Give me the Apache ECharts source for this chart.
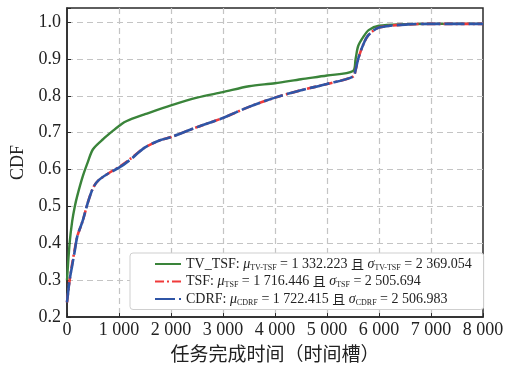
<!DOCTYPE html>
<html>
<head>
<meta charset="utf-8">
<script src="https://cdn.jsdelivr.net/npm/echarts@6/dist/echarts.min.js"></script>
<style>
    html, body { margin: 0; padding: 0; background: #fff; }
    #charts { width: 511px; height: 368px; }
</style>
</head>
<body>
<div id="charts"></div>
<script>
    // 任务完成时间 (x) 与 CDF (y)
    var tvX   = [0, 50, 100, 150, 200, 300, 400, 500, 700, 900, 1000, 1100, 1200, 1500, 2000, 2500, 3000, 3500, 4000, 4500, 5000, 5500, 5550, 5600, 5700, 5800, 6000, 6500, 7000, 8000];
    var tvY   = [0.30, 0.40, 0.46, 0.50, 0.53, 0.58, 0.62, 0.655, 0.683, 0.707, 0.718, 0.728, 0.735, 0.75, 0.774, 0.795, 0.81, 0.826, 0.834, 0.845, 0.855, 0.867, 0.90, 0.935, 0.96, 0.978, 0.99, 0.994, 0.995, 0.995];
    var tsfX  = [0, 50, 100, 150, 200, 300, 400, 500, 600, 800, 1000, 1200, 1500, 1800, 2000, 2500, 3000, 3500, 4000, 4500, 5000, 5500, 5550, 5600, 5700, 5800, 6000, 6500, 7000, 8000];
    var tsfY  = [0.24, 0.30, 0.345, 0.385, 0.42, 0.46, 0.51, 0.55, 0.57, 0.59, 0.607, 0.627, 0.66, 0.68, 0.688, 0.715, 0.74, 0.77, 0.795, 0.815, 0.832, 0.852, 0.87, 0.90, 0.94, 0.965, 0.985, 0.993, 0.995, 0.995];
    var cdrfX = [0, 50, 100, 150, 200, 300, 400, 500, 600, 800, 1000, 1200, 1500, 1800, 2000, 2500, 3000, 3500, 4000, 4500, 5000, 5500, 5550, 5600, 5700, 5800, 6000, 6500, 7000, 8000];
    var cdrfY = [0.24, 0.30, 0.34, 0.38, 0.42, 0.46, 0.51, 0.55, 0.57, 0.59, 0.605, 0.625, 0.66, 0.68, 0.688, 0.715, 0.74, 0.77, 0.795, 0.815, 0.832, 0.852, 0.87, 0.90, 0.94, 0.965, 0.985, 0.993, 0.995, 0.995];

    var seriesNames = ['TV_TSF', 'TSF', 'CDRF'];
    var subNames = ['TV-TSF', 'TSF', 'CDRF'];
    var muValues = ['1 332.223', '1 716.446', '1 722.415'];
    var sigmaValues = ['2 369.054', '2 505.694', '2 506.983'];

    function pairs(xs, ys) {
        return xs.map(function (x, i) { return [x, ys[i]]; });
    }

    var serif = '"Liberation Serif", "Times New Roman", "Noto Serif CJK SC", serif';

    var myCharts = echarts.init(document.getElementById('charts'), null, {renderer: 'canvas'});
    myCharts.setOption({
        animation: false,
        grid: {
            left: 67, right: 28, top: 8, bottom: 49,
            show: true,
            borderColor: '#2a2a2a',
            borderWidth: 1.5
        },
        xAxis: {
            type: 'value',
            min: 0, max: 8000, interval: 1000,
            name: '任务完成时间（时间槽）',
            nameLocation: 'middle',
            nameGap: 23,
            nameTextStyle: {fontFamily: '"Noto Sans CJK SC", sans-serif', fontSize: 19, color: '#222'},
            axisLine: {show: true, lineStyle: {color: '#2a2a2a', width: 1.5}},
            axisTick: {show: true, inside: true, length: 4, lineStyle: {color: '#2a2a2a'}},
            axisLabel: {
                fontFamily: serif, fontSize: 18, color: '#222', margin: 4,
                formatter: function (v) {
                    return String(v).replace(/\B(?=(\d{3})+(?!\d))/g, ' ');
                }
            },
            splitLine: {show: true, showMinLine: false, showMaxLine: false, lineStyle: {color: '#c4c4c4', type: [6, 4], width: 1.2}}
        },
        yAxis: {
            type: 'value',
            min: 0.2, max: 1.038, interval: 0.1,
            name: 'CDF',
            nameLocation: 'middle',
            nameGap: 34,
            nameTextStyle: {fontFamily: serif, fontSize: 18, color: '#222'},
            axisLine: {show: true, lineStyle: {color: '#2a2a2a', width: 1.5}},
            axisTick: {show: true, inside: true, length: 4, lineStyle: {color: '#2a2a2a'}},
            axisLabel: {
                fontFamily: serif, fontSize: 18, color: '#222', margin: 6,
                formatter: function (v) {
                    if (Math.abs(v * 10 - Math.round(v * 10)) > 1e-6) return '';
                    return v.toFixed(1);
                }
            },
            splitLine: {show: true, showMinLine: false, showMaxLine: false, lineStyle: {color: '#c4c4c4', type: [6, 4], width: 1.2}}
        },
        legend: {
            orient: 'vertical',
            left: 130, top: 253,
            backgroundColor: '#fff',
            borderColor: '#cfcfcf',
            borderWidth: 1,
            borderRadius: 3,
            padding: [4, 12, 3, 24],
            itemWidth: 26,
            itemHeight: 10,
            itemGap: 3,
            itemStyle: {opacity: 0},
            data: seriesNames,
            formatter: function (name) {
                var i = seriesNames.indexOf(name);
                return '{n|' + name + ': }{g|μ}{s|' + subNames[i] + '}{n| = ' + muValues[i] + ' }{c|且}{n| }{g|σ}{s|' + subNames[i] + '}{n| = ' + sigmaValues[i] + '}';
            },
            textStyle: {
                fontFamily: serif, fontSize: 14, color: '#222',
                rich: {
                    n: {fontFamily: serif, fontSize: 14, color: '#222', lineHeight: 15},
                    g: {fontFamily: serif, fontSize: 14, fontStyle: 'italic', color: '#222', lineHeight: 15},
                    s: {fontFamily: serif, fontSize: 8, color: '#222', lineHeight: 15, verticalAlign: 'bottom', padding: [4, 0, 0, 0]},
                    c: {fontFamily: '"Noto Sans CJK SC", sans-serif', fontSize: 13, color: '#222', lineHeight: 15}
                }
            }
        },
        series: [
            {
                name: 'TV_TSF',
                type: 'line',
                symbol: 'none',
                smooth: 0.3,
                data: pairs(tvX, tvY),
                itemStyle: {color: '#3a843a'},
                lineStyle: {color: '#3a843a', width: 2.4}
            },
            {
                name: 'TSF',
                type: 'line',
                symbol: 'none',
                smooth: 0.3,
                data: pairs(tsfX, tsfY),
                itemStyle: {color: '#f03a3a'},
                lineStyle: {color: '#f03a3a', width: 2.6, type: [9, 3, 2, 3]}
            },
            {
                name: 'CDRF',
                type: 'line',
                symbol: 'none',
                smooth: 0.3,
                data: pairs(cdrfX, cdrfY),
                itemStyle: {color: '#2f55a6'},
                lineStyle: {color: '#2f55a6', width: 2.6, type: [20, 4]}
            }
        ]
    });
</script>
</body>
</html>
